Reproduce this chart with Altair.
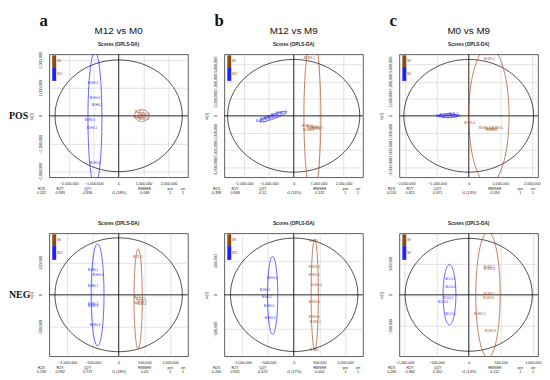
import altair as alt
import numpy as np
import pandas as pd

BROWN = "#a04a1e"
BLUE = "#1f1fff"
LEG_BROWN = "#8a4a12"
SANS = "Liberation Sans"
SERIF = "Liberation Serif"

letters = ["a", "b", "c"]
comparisons = ["M12 vs M0", "M12 vs M9", "M0 vs M9"]
modes = ["POS", "NEG"]
plot_title = "Scores (OPLS-DA)"
y_title = "to[1]"
stat_names = ["R2X", "R2Y", "Q2Y", "RMSEE", "pre", "ort"]
group_names = [["M0", "M12"], ["M9", "M12"], ["M9", "M0"]]  # [brown, blue]

# ---------------- POS row ----------------
pos_a_blue_x = [-1030000, -950000, -870000, -1150000, -1070000, -950000]
pos_a_blue_y = [1190000, 630000, 390000, -140000, -420000, -1680000]
pos_a_blue_lab = ["M-HG-3", "M-HG-6", "M-HG-2", "M-HG-5", "M-HG-1", "M-HG-4"]
pos_a_brown_x = [850000, 960000, 1050000, 800000, 910000, 1010000]
pos_a_brown_y = [150000, 70000, 20000, -30000, -90000, -130000]
pos_a_brown_lab = ["M-ZL-1", "M-ZL-4", "M-ZL-2", "M-ZL-6", "M-ZL-3", "M-ZL-5"]
pos_a_hotelling = [0, 0, 2550000, 2000000]
pos_a_blue_ell = [-950000, -100000, 280000, 2400000, 0]
pos_a_brown_ell = [930000, 10000, 290000, 210000, 0]
pos_a_xdom = [-2780000, 2780000]
pos_a_ydom = [-2200000, 2200000]
pos_a_xticks = [-2000000, -1000000, 0, 1000000, 2000000]
pos_a_yticks = [-2000000, -1000000, 0, 1000000, 2000000]
pos_a_stats = ["0.322", "0.993", "0.936", "0.048", "1", "1"]
pos_a_t1 = "t1 (18%)"

pos_b_blue_x = [-1300000, -1150000, -1000000, -850000, -700000, -500000]
pos_b_blue_y = [-300000, -200000, -150000, -50000, 50000, 150000]
pos_b_blue_lab = ["M-HG-1", "M-HG-4", "M-HG-2", "M-HG-6", "M-HG-3", "M-HG-5"]
pos_b_brown_x = [630000, 550000, 750000, 950000, 600000, 850000]
pos_b_brown_y = [3370000, -600000, -650000, -700000, -850000, -750000]
pos_b_brown_lab = ["M-WG-2", "M-WG-1", "M-WG-3", "M-WG-5", "M-WG-6", "M-WG-4"]
pos_b_hotelling = [0, 0, 2650000, 3300000]
pos_b_blue_ell = [-820000, -50000, 620000, 120000, 29]
pos_b_brown_ell = [750000, 0, 340000, 4700000, 0]
pos_b_xdom = [-2780000, 2780000]
pos_b_ydom = [-3600000, 3600000]
pos_b_xticks = [-2000000, -1000000, 0, 1000000, 2000000]
pos_b_yticks = [-3000000, -2000000, -1000000, 0, 1000000, 2000000, 3000000]
pos_b_stats = ["0.399", "0.948", "0.52", "0.132", "1", "1"]
pos_b_t1 = "t1 (14%)"

pos_c_blue_x = [-900000, -780000, -680000, -580000, -480000, -420000]
pos_c_blue_y = [0, 50000, -50000, 20000, 80000, -30000]
pos_c_blue_lab = ["M-ZL-1", "M-ZL-2", "M-ZL-3", "M-ZL-4", "M-ZL-5", "M-ZL-6"]
pos_c_brown_x = [660000, 30000, 500000, 700000, 900000, 750000]
pos_c_brown_y = [3300000, -400000, -700000, -750000, -720000, -850000]
pos_c_brown_lab = ["M-WG-2", "M-WG-4", "M-WG-1", "M-WG-3", "M-WG-6", "M-WG-5"]
pos_c_hotelling = [0, 0, 2060000, 3300000]
pos_c_blue_ell = [-650000, 0, 320000, 110000, 0]
pos_c_brown_ell = [640000, 0, 640000, 4000000, 0]
pos_c_xdom = [-2200000, 2200000]
pos_c_ydom = [-3600000, 3600000]
pos_c_xticks = [-2000000, -1000000, 0, 1000000, 2000000]
pos_c_yticks = [-3000000, -2000000, -1000000, 0, 1000000, 2000000, 3000000]
pos_c_stats = ["0.516", "0.821", "0.471", "0.183", "1", "1"]
pos_c_t1 = "t1 (13%)"

# ---------------- NEG row ----------------
neg_a_blue_x = [-500000, -400000, -500000, -500000, -500000, -460000]
neg_a_blue_y = [380000, 300000, 140000, -150000, -180000, -470000]
neg_a_blue_lab = ["M-HG-1", "M-HG-5", "M-HG-2", "M-HG-3", "M-HG-6", "M-HG-4"]
neg_a_brown_x = [370000, 380000, 420000, 460000, 400000, 450000]
neg_a_brown_y = [580000, -30000, -60000, -90000, -120000, -150000]
neg_a_brown_lab = ["M-ZL-3", "M-ZL-1", "M-ZL-5", "M-ZL-2", "M-ZL-6", "M-ZL-4"]
neg_a_hotelling = [0, 0, 1240000, 880000]
neg_a_blue_ell = [-410000, 0, 125000, 790000, 0]
neg_a_brown_ell = [380000, -60000, 80000, 770000, 0]
neg_a_xdom = [-1350000, 1350000]
neg_a_ydom = [-950000, 950000]
neg_a_xticks = [-1000000, -500000, 0, 500000, 1000000]
neg_a_yticks = [-500000, 0, 500000]
neg_a_stats = ["0.293", "0.992", "0.737", "0.05", "1", "1"]
neg_a_t1 = "t1 (18%)"

neg_b_blue_x = [-420000, -560000, -520000, -480000, -460000]
neg_b_blue_y = [240000, 70000, -30000, -170000, -340000]
neg_b_blue_lab = ["M-HG-4", "M-HG-1", "M-HG-2", "M-HG-3", "M-HG-5"]
neg_b_brown_x = [380000, 400000, 400000, 440000, 400000, 400000, 420000, 400000]
neg_b_brown_y = [790000, 410000, 290000, 140000, -110000, -330000, -400000, -810000]
neg_b_brown_lab = ["M-WG", "M-WG-3", "M-WG-2", "M-WG-4", "M-WG-6", "M-WG-5", "M-WG-1", "M-WG"]
neg_b_hotelling = [10000, 0, 1240000, 830000]
neg_b_blue_ell = [-410000, -10000, 100000, 570000, 0]
neg_b_brown_ell = [410000, 0, 70000, 810000, 0]
neg_b_xdom = [-1350000, 1350000]
neg_b_ydom = [-900000, 900000]
neg_b_xticks = [-1000000, -500000, 0, 500000, 1000000]
neg_b_yticks = [-500000, 0, 500000]
neg_b_stats = ["0.266", "0.931", "0.673", "0.054", "1", "1"]
neg_b_t1 = "t1 (17%)"

neg_c_blue_x = [-290000, -290000, -320000, -400000, -290000]
neg_c_blue_y = [250000, 125000, -50000, -110000, -300000]
neg_c_blue_lab = ["M-LG-1", "M-LG-4", "M-LG-2", "M-LG-5", "M-LG-3"]
neg_c_brown_x = [320000, 320000, 320000, 310000, 170000, 340000]
neg_c_brown_y = [450000, 410000, 20000, -50000, -300000, -580000]
neg_c_brown_lab = ["M-WG-1", "M-WG-4", "M-WG-2", "M-WG-6", "M-WG-3", "M-WG-5"]
neg_c_hotelling = [0, 0, 990000, 900000]
neg_c_blue_ell = [-300000, 0, 100000, 480000, 0]
neg_c_brown_ell = [300000, 0, 190000, 1000000, 0]
neg_c_xdom = [-1080000, 1080000]
neg_c_ydom = [-980000, 980000]
neg_c_xticks = [-1000000, -500000, 0, 500000, 1000000]
neg_c_yticks = [-500000, 0, 500000]
neg_c_stats = ["0.294", "0.962", "0.452", "0.112", "1", "1"]
neg_c_t1 = "t1 (14%)"

# ---------------- layout constants ----------------
PW, PH = 141, 125
STAT_X = [-8, 11, 39, 97, 123, 136]
FS = 3.8


def ellipse_df(cx, cy, rx, ry, ang=0, n=120):
    t = np.linspace(0, 2 * np.pi, n)
    a = np.deg2rad(ang)
    ex, ey = rx * np.cos(t), ry * np.sin(t)
    return pd.DataFrame({
        "x": cx + ex * np.cos(a) - ey * np.sin(a),
        "y": cy + ex * np.sin(a) + ey * np.cos(a),
        "i": np.arange(n),
    })


def panel_data(prefix):
    g = globals()
    return {k: g[f"{prefix}_{k}"] for k in [
        "blue_x", "blue_y", "blue_lab", "brown_x", "brown_y", "brown_lab",
        "hotelling", "blue_ell", "brown_ell", "xdom", "ydom", "xticks",
        "yticks", "stats", "t1"]}


def make_panel(d, row, col):
    brown_g, blue_g = group_names[col]
    xs = alt.Scale(domain=d["xdom"], nice=False, zero=False)
    ys = alt.Scale(domain=d["ydom"], nice=False, zero=False)
    xaxis = alt.Axis(values=d["xticks"], format=",.0f", labelFontSize=FS, labelColor="#222",
                     ticks=False, tickSize=0, domain=False, grid=True, gridColor="#cfcfcf",
                     gridWidth=0.6, labelPadding=4, labelFlush=False, labelOverlap=False,
                     title=d["t1"], titleFontSize=FS, titleFontWeight="normal",
                     titleColor="#222", titleBaseline="middle", titleY=16)
    yaxis = alt.Axis(values=d["yticks"], format=",.0f", labelFontSize=FS, labelColor="#222",
                     labelAngle=270, ticks=False, tickSize=0, domain=False, grid=True,
                     gridColor="#cfcfcf", gridWidth=0.6, labelPadding=7, labelFlush=False,
                     labelOverlap=False, title=y_title, titleFontSize=FS,
                     titleFontWeight="normal", titleColor="#222", titlePadding=5)
    X = alt.X("x:Q", scale=xs, axis=xaxis)
    Y = alt.Y("y:Q", scale=ys, axis=yaxis)
    cscale = alt.Scale(domain=[brown_g, blue_g], range=[BROWN, BLUE])
    C = alt.Color("g:N", scale=cscale, legend=None)

    hot = ellipse_df(*d["hotelling"])
    ell = pd.concat([
        ellipse_df(*d["brown_ell"]).assign(g=brown_g),
        ellipse_df(*d["blue_ell"]).assign(g=blue_g),
    ])
    pts = pd.concat([
        pd.DataFrame({"x": d["brown_x"], "y": d["brown_y"], "lab": d["brown_lab"], "g": brown_g}),
        pd.DataFrame({"x": d["blue_x"], "y": d["blue_y"], "lab": d["blue_lab"], "g": blue_g}),
    ])

    layers = [
        alt.Chart(hot).mark_line(color="black", strokeWidth=0.7).encode(x=X, y=Y, order="i:Q"),
        alt.Chart(pd.DataFrame({"x": [0]})).mark_rule(color="black", strokeWidth=0.8).encode(x=X),
        alt.Chart(pd.DataFrame({"y": [0]})).mark_rule(color="black", strokeWidth=0.8).encode(y=Y),
        alt.Chart(ell).mark_line(strokeWidth=0.7, clip=True).encode(
            x=X, y=Y, order="i:Q", detail="g:N", color=C),
        alt.Chart(pts).mark_text(fontSize=3.0, font=SANS, clip=True).encode(
            x=X, y=Y, text="lab:N", color=C),
        alt.Chart(pd.DataFrame({"t": [plot_title]})).mark_text(
            fontSize=4.8, font=SANS, fontWeight="bold", baseline="middle", align="center",
            color="#222").encode(text="t:N", x=alt.value(PW / 2), y=alt.value(-9)),
    ]
    # legend box (top-left, inside the plot)
    leg_rows = [(brown_g, LEG_BROWN, 1, 13), (blue_g, BLUE, 13, 27)]
    for name, colr, y1, y2 in leg_rows:
        ld = pd.DataFrame({"g": [name]})
        layers.append(alt.Chart(ld).mark_rect(color=colr).encode(
            x=alt.value(3), x2=alt.value(7), y=alt.value(y1), y2=alt.value(y2)))
        layers.append(alt.Chart(ld).mark_text(fontSize=2.8, font=SANS, align="left",
                                              baseline="middle", color="#8a4a12").encode(
            text="g:N", x=alt.value(8), y=alt.value((y1 + y2) / 2)))
    for k, name in enumerate(stat_names):
        sd = pd.DataFrame({"h": [name], "v": [d["stats"][k]]})
        layers.append(alt.Chart(sd).mark_text(fontSize=FS, font=SANS, color="#222", baseline="middle")
                      .encode(text="h:N", x=alt.value(STAT_X[k]), y=alt.value(PH + 11.5)))
        layers.append(alt.Chart(sd).mark_text(fontSize=FS, font=SANS, color="#222", baseline="middle")
                      .encode(text="v:N", x=alt.value(STAT_X[k]), y=alt.value(PH + 16)))
    if row == 0:
        layers.append(alt.Chart(pd.DataFrame({"t": [comparisons[col]]})).mark_text(
            fontSize=10, font=SANS, baseline="middle", align="center", color="#111")
            .encode(text="t:N", x=alt.value(PW / 2), y=alt.value(-24)))
        layers.append(alt.Chart(pd.DataFrame({"t": [letters[col]]})).mark_text(
            fontSize=17, font=SERIF, fontWeight="bold", baseline="top", align="left", color="#111")
            .encode(text="t:N", x=alt.value(-10), y=alt.value(-42)))
    if col == 0:
        layers.append(alt.Chart(pd.DataFrame({"t": [modes[row]]})).mark_text(
            fontSize=10, font=SERIF, fontWeight="bold", baseline="middle", align="left", color="#111")
            .encode(text="t:N", x=alt.value(-41), y=alt.value(63)))

    return alt.layer(*layers).properties(width=PW, height=PH)


panels = []
for r, rowp in enumerate(["pos", "neg"]):
    for c, colp in enumerate(["a", "b", "c"]):
        panels.append(make_panel(panel_data(f"{rowp}_{colp}"), r, c))

chart = (
    alt.concat(*panels, columns=3, spacing={"row": 57, "column": 37}, bounds="flush")
    .resolve_scale(x="independent", y="independent", color="independent")
    .configure_view(stroke="#333", strokeWidth=0.8)
    .configure_axis(labelFont=SANS, titleFont=SANS)
    .properties(padding={"left": 0, "top": 0, "right": 0, "bottom": 0}, background="white")
)

chart.save("out.html", embed_options={"renderer": "svg", "actions": False})
